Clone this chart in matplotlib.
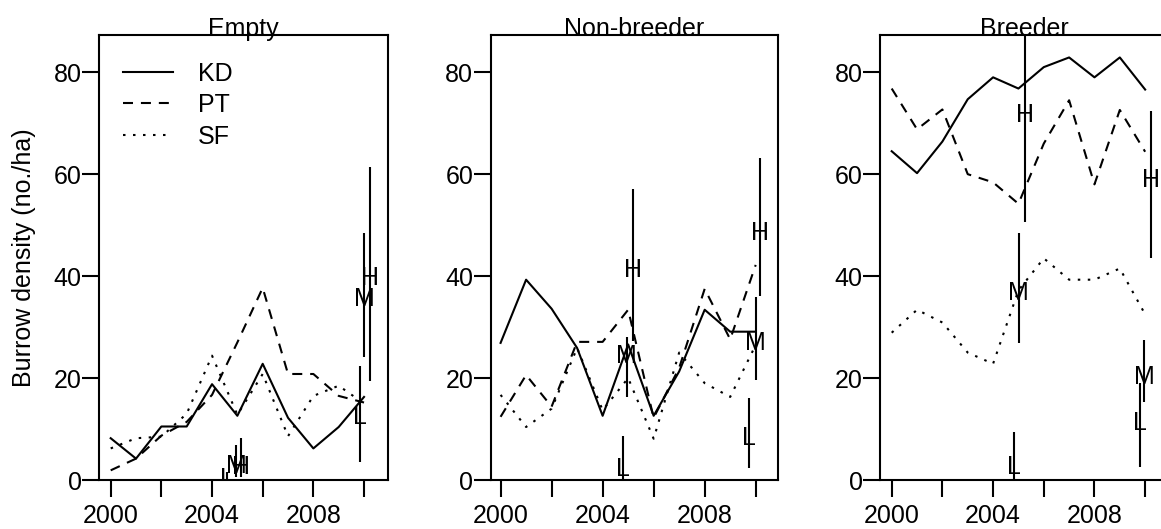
import matplotlib
matplotlib.use("Agg")
import matplotlib.pyplot as plt

plt.rcParams['font.family'] = ['Liberation Sans', 'DejaVu Sans']
plt.rcParams['font.size'] = 18

years = list(range(2000, 2011))
panel_titles = ['Empty', 'Non-breeder', 'Breeder']
series_names = ['KD', 'PT', 'SF']

# burrow density per colony, one list per status class
kd_empty = [8.2, 4.2, 10.5, 10.5, 18.8, 12.6, 22.8, 12.2, 6.2, 10.4, 16.3]
pt_empty = [1.9, 4.2, 8.7, 11.4, 16.7, 27.0, 37.7, 20.8, 20.8, 16.5, 15.2]
sf_empty = [6.2, 8.2, 8.5, 13.0, 24.4, 12.8, 20.8, 8.6, 16.5, 18.5, 15.0]

kd_nonbreeder = [26.9, 39.3, 33.6, 25.9, 12.6, 26.6, 12.6, 21.3, 33.4, 29.1, 29.1]
pt_nonbreeder = [12.4, 20.6, 14.4, 27.1, 27.1, 33.4, 12.2, 22.0, 37.5, 27.6, 42.2]
sf_nonbreeder = [16.7, 10.4, 14.0, 25.9, 13.7, 20.0, 8.1, 25.0, 19.0, 16.3, 26.5]

kd_breeder = [64.5, 60.2, 66.4, 74.7, 79.0, 76.8, 81.0, 82.9, 79.0, 82.9, 76.6]
pt_breeder = [76.8, 68.8, 72.7, 60.0, 58.4, 54.2, 66.0, 74.5, 58.0, 72.6, 64.4]
sf_breeder = [28.9, 33.4, 30.9, 25.0, 22.8, 37.2, 43.5, 39.3, 39.3, 41.5, 32.5]

# habitat estimates (L, M, H) for 2005 and 2010 with their intervals
est_labels = ['L', 'M', 'H', 'L', 'M', 'H']

est_x_empty = [2004.6, 2004.95, 2005.15, 2009.84, 2010.0, 2010.24]
est_empty = [0.2, 2.8, 2.6, 12.3, 35.5, 39.6]
lo_empty = [0.0, 0.6, 0.6, 3.6, 24.2, 19.4]
hi_empty = [1.5, 6.9, 8.2, 22.4, 48.4, 61.5]

est_x_nonbreeder = [2004.79, 2004.95, 2005.18, 2009.75, 2010.0, 2010.17]
est_nonbreeder = [2.1, 24.3, 41.2, 8.2, 26.8, 48.4]
lo_nonbreeder = [0.0, 16.3, 27.3, 2.3, 19.6, 36.1]
hi_nonbreeder = [8.7, 28.0, 57.0, 16.0, 36.0, 63.1]

est_x_breeder = [2004.82, 2005.01, 2005.25, 2009.81, 2009.97, 2010.24]
est_breeder = [2.6, 36.6, 71.6, 11.1, 20.3, 58.9]
lo_breeder = [0.0, 26.8, 50.7, 2.6, 15.4, 43.5]
hi_breeder = [9.5, 48.4, 92.0, 19.0, 27.5, 72.3]

line_styles = ['-', (0, (4.8, 3.8)), (0, (1.2, 3.6))]


def draw_panel(ax, title, series, est_x, est, lo, hi, xlim):
    for values, ls, name in zip(series, line_styles, series_names):
        ax.plot(years, values, color='black', lw=1.5, linestyle=ls, label=name)
    ax.vlines(est_x, lo, hi, color='black', lw=1.5)
    for x, y, lab in zip(est_x, est, est_labels):
        ax.text(x, y, lab, ha='center', va='center', fontsize=18, clip_on=True)
    ax.set_xlim(*xlim)
    ax.set_ylim(0, 87.3)
    ax.set_xticks(range(2000, 2011, 2))
    ax.set_xticklabels(['2000', '', '2004', '', '2008', ''])
    ax.set_yticks([0, 20, 40, 60, 80])
    ax.tick_params(axis='both', direction='out', length=12, width=1.5)
    ax.tick_params(axis='x', pad=5.5)
    ax.tick_params(axis='y', pad=0.5)
    for sp in ax.spines.values():
        sp.set_linewidth(1.5)
    # title sits right on the top edge of the box
    ax.text(0.5, 0.998, title, transform=ax.transAxes, ha='center',
            va='baseline', fontsize=18)


fig = plt.figure(figsize=(11.61, 5.29), dpi=100)
ax1 = fig.add_axes([0.0853, 0.0926, 0.2492, 0.8412])
ax2 = fig.add_axes([0.4226, 0.0926, 0.2472, 0.8412])
ax3 = fig.add_axes([0.7580, 0.0926, 0.2480, 0.8412])

draw_panel(ax1, panel_titles[0], [kd_empty, pt_empty, sf_empty],
           est_x_empty, est_empty, lo_empty, hi_empty, (1999.54, 2010.96))
draw_panel(ax2, panel_titles[1], [kd_nonbreeder, pt_nonbreeder, sf_nonbreeder],
           est_x_nonbreeder, est_nonbreeder, lo_nonbreeder, hi_nonbreeder, (1999.61, 2010.86))
draw_panel(ax3, panel_titles[2], [kd_breeder, pt_breeder, sf_breeder],
           est_x_breeder, est_breeder, lo_breeder, hi_breeder, (1999.54, 2010.9))

ax1.legend(loc='upper left', bbox_to_anchor=(0.083, 0.94), frameon=False,
           borderaxespad=0, borderpad=0, handlelength=2.0, handletextpad=1.0,
           labelspacing=0.3, fontsize=18)

fig.text(24 / 1161, 0.513, 'Burrow density (no./ha)', rotation=90,
         ha='center', va='center', fontsize=18)

fig.savefig('out.png', dpi=100)
